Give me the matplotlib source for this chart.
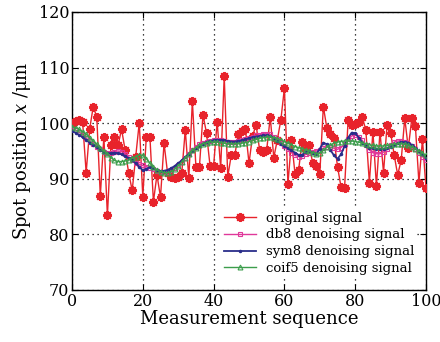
import matplotlib
matplotlib.use("Agg")
import matplotlib.pyplot as plt
import numpy as np

x = list(range(101))

original = [100.0, 100.4, 100.5, 100.2, 91.1, 99.0, 103.0, 101.1, 86.9, 97.6,
            83.4, 96.1, 97.6, 96.0, 98.9, 95.2, 91.1, 87.9, 94.0, 100.1,
            86.8, 97.6, 97.6, 85.9, 90.7, 86.7, 96.4, 91.0, 90.3, 90.1,
            90.3, 91.0, 98.8, 90.1, 104.0, 92.2, 92.2, 101.5, 98.2, 92.3,
            92.3, 100.3, 91.9, 108.5, 90.4, 94.3, 94.3, 98.1, 98.6, 98.9,
            92.8, 97.7, 99.7, 95.2, 94.9, 95.2, 101.1, 93.8, 97.0, 100.6,
            106.3, 89.1, 96.9, 90.9, 91.5, 96.7, 95.2, 96.1, 92.8, 92.3,
            90.9, 103.0, 99.1, 98.1, 97.3, 92.2, 88.5, 88.4, 100.6, 99.7,
            99.9, 100.3, 101.1, 98.8, 89.3, 98.5, 88.7, 98.5, 91.1, 99.7,
            98.3, 94.3, 90.7, 93.4, 100.9, 95.5, 100.9, 99.5, 89.3, 97.1,
            88.3]

db8 = [99.0, 98.8, 98.4, 97.9, 97.3, 96.8, 96.3, 95.8, 95.3, 94.9,
       94.7, 94.7, 94.9, 95.0, 94.9, 94.5, 93.9, 93.3, 92.9, 92.6,
       92.4, 92.2, 92.0, 91.7, 91.4, 91.2, 91.2, 91.3, 91.6, 92.0,
       92.5, 93.1, 93.8, 94.5, 95.2, 95.8, 96.2, 96.5, 96.7, 96.8,
       96.9, 96.9, 96.9, 96.8, 96.7, 96.7, 96.7, 96.8, 97.0, 97.2,
       97.4, 97.6, 97.8, 97.9, 98.1, 98.1, 98.0, 97.6, 97.1, 96.5,
       95.9, 95.3, 94.7, 94.2, 94.0, 94.1, 94.4, 94.7, 94.9, 95.0,
       95.2, 95.5, 95.7, 95.7, 95.5, 95.3, 95.6, 96.3, 97.1, 97.7,
       97.9, 97.6, 96.9, 96.0, 95.2, 94.7, 94.5, 94.5, 94.8, 95.4,
       96.1, 96.6, 96.8, 96.8, 96.6, 96.3, 95.9, 95.4, 94.7, 94.0,
       93.3]

sym8 = [98.6, 98.3, 97.9, 97.5, 97.0, 96.5, 96.1, 95.7, 95.2, 94.8,
        94.6, 94.6, 94.7, 94.6, 94.4, 94.1, 93.7, 93.3, 92.8, 92.2,
        91.5, 91.8, 92.1, 91.9, 91.6, 91.4, 91.4, 91.6, 91.9, 92.3,
        92.8, 93.3, 93.9, 94.5, 95.0, 95.5, 95.9, 96.3, 96.6, 96.8,
        96.9, 97.0, 97.0, 96.9, 96.8, 96.7, 96.7, 96.8, 96.9, 97.1,
        97.3, 97.5, 97.6, 97.7, 97.8, 97.8, 97.7, 97.3, 96.8, 96.3,
        95.9, 95.5, 95.1, 94.7, 94.3, 94.3, 94.8, 95.0, 94.7, 94.5,
        95.4, 96.5, 96.2, 95.2, 94.2, 93.6, 94.4, 95.9, 97.4, 98.3,
        98.2, 97.4, 96.5, 95.9, 95.6, 95.5, 95.4, 95.4, 95.4, 95.5,
        95.8, 96.1, 96.4, 96.6, 96.6, 96.5, 96.1, 95.6, 95.0, 94.4,
        93.8]

coif5 = [99.3, 99.2, 98.9, 98.5, 98.0, 97.4, 96.8, 96.2, 95.6, 95.0,
         94.4, 93.8, 93.3, 93.1, 93.1, 93.2, 93.4, 93.7, 94.0, 94.3,
         94.2, 93.6, 92.8, 92.1, 91.6, 91.3, 91.1, 91.1, 91.3, 91.7,
         92.3, 93.0, 93.7, 94.4, 95.1, 95.6, 96.0, 96.3, 96.5, 96.6,
         96.6, 96.6, 96.5, 96.4, 96.3, 96.3, 96.3, 96.3, 96.4, 96.5,
         96.7, 96.9, 97.1, 97.3, 97.4, 97.5, 97.5, 97.4, 97.2, 97.0,
         96.7, 96.4, 96.1, 95.8, 95.6, 95.4, 95.2, 95.0, 94.7, 94.5,
         94.6, 95.1, 95.7, 96.1, 96.4, 96.6, 96.7, 96.8, 96.8, 96.8,
         96.7, 96.6, 96.4, 96.3, 96.1, 96.0, 95.9, 95.9, 95.9, 96.0,
         96.1, 96.2, 96.3, 96.3, 96.2, 96.0, 95.7, 95.4, 95.0, 94.6,
         94.2]

labels = ["original signal", "db8 denoising signal",
          "sym8 denoising signal", "coif5 denoising signal"]
xticks = [0, 20, 40, 60, 80, 100]
yticks = [70, 80, 90, 100, 110, 120]

plt.rcParams['font.family'] = ['DejaVu Serif']
plt.rcParams['mathtext.fontset'] = 'dejavuserif'

fig = plt.figure(figsize=(4.4, 3.42), dpi=100)
ax = fig.add_axes([72/440, 1-290/342, (426-72)/440, (290-12)/342])

red = '#e8232b'
mag = '#e0389a'
navy = '#2a2d8a'
green = '#3c9e4c'

ax.plot(x, original, color=red, lw=1.0, marker=(8, 2, 0), ms=6.5, mew=1.4,
        mec=red, label=labels[0], zorder=3)
ax.plot(x, db8, color=mag, lw=1.0, marker='s', ms=3, mfc='none', mec=mag,
        mew=0.8, label=labels[1], zorder=4)
ax.plot(x, sym8, color=navy, lw=1.3, marker='.', ms=3, mfc=navy, mec=navy,
        label=labels[2], zorder=5)
ax.plot(x, coif5, color=green, lw=1.0, marker='^', ms=3.5, mfc='none', mec=green,
        mew=0.8, label=labels[3], zorder=6)

ax.set_xlim(0, 100)
ax.set_ylim(70, 120)
ax.set_xticks(xticks)
ax.set_yticks(yticks)
ax.grid(True, color='black', linestyle=(0, (1, 3)), linewidth=0.9)
ax.tick_params(direction='in', top=True, right=True, labelsize=11.5, length=4,
               pad=2)
for s in ax.spines.values():
    s.set_linewidth(1.0)

ax.set_xlabel("Measurement sequence", fontsize=13, labelpad=0)
ax.set_ylabel("Spot position $x$ /μm", fontsize=13, labelpad=4)

leg = ax.legend(loc='lower right', bbox_to_anchor=(0.975, 0.045), frameon=True,
                fontsize=9.5, handlelength=2.4, handletextpad=0.8,
                labelspacing=0.28, borderpad=0.2, borderaxespad=0)
leg.get_frame().set_edgecolor('none')
leg.get_frame().set_facecolor('white')
leg.get_frame().set_alpha(1.0)
leg.set_zorder(10)

fig.savefig("out.png", dpi=100)
